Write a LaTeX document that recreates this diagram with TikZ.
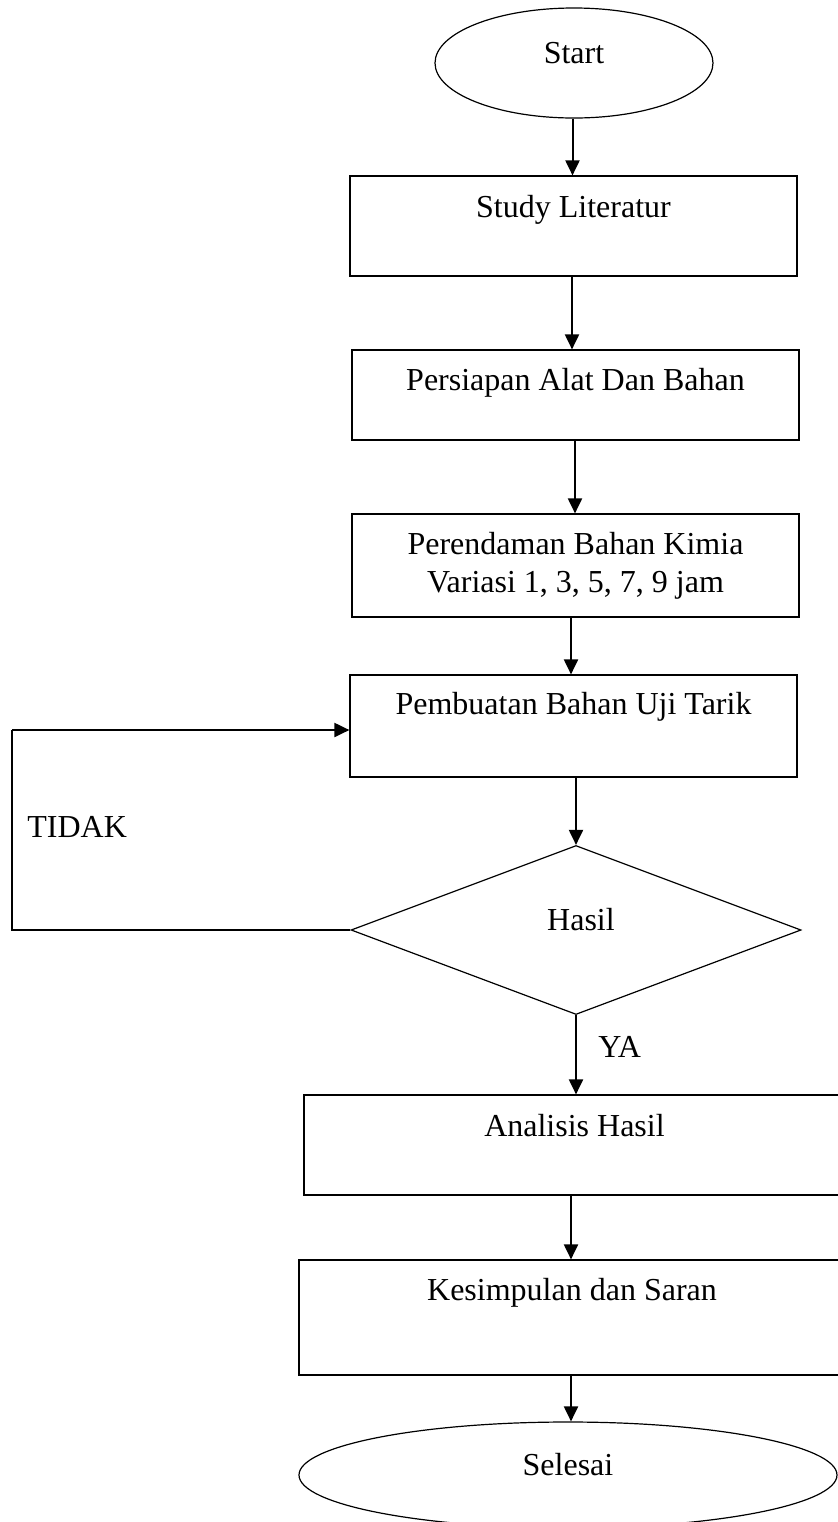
\documentclass[tikz,border=0pt]{standalone}
\usepackage{fontspec}
\setmainfont{Liberation Serif}
\usetikzlibrary{shapes.geometric,arrows.meta,calc}
\begin{document}
\begin{tikzpicture}[x=0.5pt,y=-0.5pt,
  txtfont/.style={font=\fontsize{16pt}{19pt}\selectfont},
  box/.style={draw, line width=0.6pt, rectangle, inner sep=0pt, align=center, txtfont},
  term/.style={draw, line width=0.6pt, ellipse, inner sep=0pt, txtfont},
  dec/.style={draw, line width=0.6pt, diamond, inner sep=0pt, txtfont},
  lbl/.style={inner sep=0pt, anchor=base west, txtfont},
  arr/.style={line width=1pt, -{Triangle[length=7.5pt,width=7pt]}},
  loopline/.style={line width=0.7pt}]
\useasboundingbox (0,0) rectangle (838,1522);
\clip (0,0) rectangle (838,1522);

\node[term, minimum width=139pt, minimum height=55pt] (start) at (574,63) {\raisebox{0pt}[0pt][0pt]{Start}};
\node[box, minimum width=223.5pt, text height=20.5pt, text depth=29.5pt] (study) at (573.5,226) {Study Literatur};
\node[box, minimum width=223.5pt, text height=20pt, text depth=25pt] (persiapan) at (575.5,395) {Persiapan Alat Dan Bahan};
\node[box, minimum width=223.5pt, minimum height=51.5pt] (rendam) at (575.5,565.5) {Perendaman Bahan Kimia\\Variasi 1, 3, 5, 7, 9 jam};
\node[box, minimum width=223.5pt, text height=19.5pt, text depth=31.5pt] (buat) at (573.5,726) {Pembuatan Bahan Uji Tarik};
\node[dec, minimum width=225pt, minimum height=84.5pt] (hasil) at (576,930) {\hspace*{5pt}\raisebox{0pt}[0pt][0pt]{Hasil}};
\node[box, minimum width=270.5pt, text height=20.5pt, text depth=29.5pt] (analisis) at (574.5,1145) {Analisis Hasil};
\node[box, minimum width=273pt, text height=20pt, text depth=37.5pt] (simpul) at (572,1317.5) {Kesimpulan dan Saran};
\node[term, minimum width=269pt, minimum height=53pt] (selesai) at (568,1475) {\raisebox{0pt}[0pt][0pt]{Selesai}};

\node[lbl] (tidak) at (27,837) {TIDAK};
\node[lbl] (ya) at (598,1057) {YA};

\draw[arr] ([xshift=-0.75pt]start.south) -- ([xshift=-0.75pt]start.south |- study.north);
\draw[arr] ([xshift=-0.75pt]study.south) -- ([xshift=-0.75pt]study.south |- persiapan.north);
\draw[arr] ([xshift=-0.25pt]persiapan.south) -- ([xshift=-0.25pt]persiapan.south |- rendam.north);
\draw[arr] ([xshift=-2.25pt]rendam.south) -- ([xshift=-2.25pt]rendam.south |- buat.north);
\draw[arr] (hasil.north |- buat.south) -- (hasil.north);
\draw[arr] (hasil.south) -- (hasil.south |- analisis.north);
\draw[arr] ([xshift=-1.75pt]analisis.south) -- ([xshift=-1.75pt]analisis.south |- simpul.north);
\draw[arr] ([xshift=-0.5pt]simpul.south) -- ([xshift=-0.5pt]simpul.south |- selesai.north);

\coordinate (lb) at (12,930);
\coordinate (lt) at (12,730);
\draw[loopline] (hasil.west) -- (lb) -- (lt);
\draw[arr] (lt) -- (lt -| buat.west);
\end{tikzpicture}
\end{document}
